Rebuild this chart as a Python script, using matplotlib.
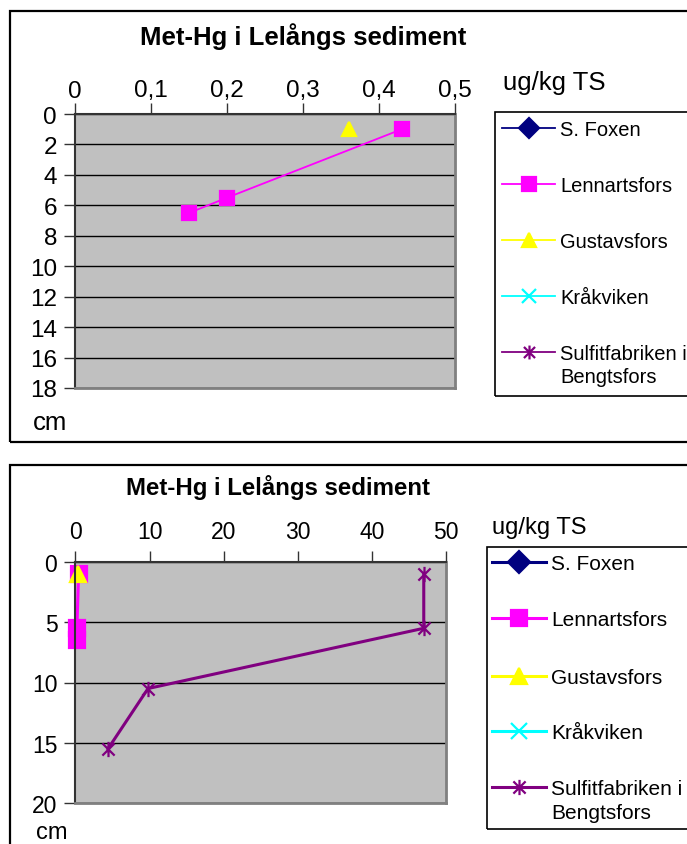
import matplotlib
matplotlib.use("Agg")
import matplotlib.pyplot as plt
from matplotlib.lines import Line2D
from matplotlib.patches import Rectangle
from matplotlib.path import Path

plt.rcParams['font.family'] = ['Liberation Sans', 'DejaVu Sans']

# depth profiles, methyl mercury in ug/kg TS
series_names = ["S. Foxen", "Lennartsfors", "Gustavsfors", "Kråkviken",
                "Sulfitfabriken i\nBengtsfors"]
foxen_depth, foxen_val = [], []
lennart_depth = [1, 5.5, 6.5]
lennart_val = [0.43, 0.2, 0.15]
gustav_depth = [1]
gustav_val = [0.36]
krak_depth, krak_val = [], []
sulfit_depth = [1, 5.5, 10.5, 15.5]
sulfit_val = [47, 47, 9.8, 4.4]

top_xticks = [0, 0.1, 0.2, 0.3, 0.4, 0.5]
top_xlabels = ["0", "0,1", "0,2", "0,3", "0,4", "0,5"]
top_yticks = list(range(0, 19, 2))
bot_xticks = [0, 10, 20, 30, 40, 50]
bot_yticks = [0, 5, 10, 15, 20]

W, H = 687, 845
fig = plt.figure(figsize=(W / 100, H / 100), dpi=100)


def fx(x):
    return x / W


def fy(y):
    return 1 - y / H


# excel style asterisk marker
asterisk = Path([(0, -1), (0, 1), (-0.8, -0.8), (0.8, 0.8), (-0.8, 0.8), (0.8, -0.8)],
                [Path.MOVETO, Path.LINETO] * 3)

styles = [
    dict(color="#000080", marker="D", mfc="#000080", mec="#000080"),
    dict(color="#FF00FF", marker="s", mfc="#FF00FF", mec="#FF00FF"),
    dict(color="#FFFF00", marker="^", mfc="#FFFF00", mec="#FFFF00"),
    dict(color="#00FFFF", marker="x", mfc="none", mec="#00FFFF"),
    dict(color="#800080", marker=asterisk, mfc="none", mec="#800080"),
]
data = [(foxen_val, foxen_depth), (lennart_val, lennart_depth),
        (gustav_val, gustav_depth), (krak_val, krak_depth),
        (sulfit_val, sulfit_depth)]


def chart(frame_top, frame_bot, box, title, title_xy, title_fs,
          xticks, xlabels, yticks, tick_fs, xpad, unit_xy, cm_xy, unit_fs,
          leg, leg_fs, lw, ms, clip):
    fig.add_artist(Rectangle((fx(10), fy(frame_bot)), 1, (frame_bot - frame_top) / H,
                             transform=fig.transFigure, fill=False,
                             ec="black", lw=1.6))
    x0, y0, x1, y1 = box
    ax = fig.add_axes([fx(x0), fy(y1), (x1 - x0) / W, (y1 - y0) / H])
    ax.set_facecolor("#C0C0C0")
    for (v, d), st in zip(data, styles):
        ax.plot(v, d, lw=lw, ms=ms, mew=1.6, clip_on=clip, **st)
    ax.set_xlim(xticks[0], xticks[-1])
    ax.set_ylim(yticks[-1], yticks[0])
    ax.xaxis.tick_top()
    ax.set_xticks(xticks)
    ax.set_xticklabels(xlabels)
    ax.set_yticks(yticks)
    ax.tick_params(axis="x", length=8, width=1, color="#333333", pad=xpad, labelsize=tick_fs)
    ax.tick_params(axis="y", length=8, width=1, color="#333333", pad=5, labelsize=tick_fs)
    ax.grid(axis="y", color="black", lw=1)
    ax.set_axisbelow(True)
    for s in ["right", "bottom"]:
        ax.spines[s].set_color("#808080")
        ax.spines[s].set_linewidth(2)
    for s in ["top", "left"]:
        ax.spines[s].set_color("#333333")
        ax.spines[s].set_linewidth(1.5)

    fig.text(fx(title_xy[0]), fy(title_xy[1]), title, fontsize=title_fs,
             fontweight="bold", ha="center", va="center")
    fig.text(fx(unit_xy[0]), fy(unit_xy[1]), "ug/kg TS", fontsize=unit_fs,
             ha="left", va="center")
    fig.text(fx(cm_xy[0]), fy(cm_xy[1]), "cm", fontsize=unit_fs,
             ha="left", va="center")

    # legend box with line and marker samples
    lx0, ltop, lbot, line_a, line_b, text_x, rows = leg
    fig.add_artist(Rectangle((fx(lx0), fy(lbot)), 1, (lbot - ltop) / H,
                             transform=fig.transFigure, fill=False,
                             ec="black", lw=1.2))
    cap = leg_fs * 100 / 72 * 0.716
    for name, st, ry in zip(series_names, styles, rows):
        fig.add_artist(Line2D([fx(line_a), fx(line_b)], [fy(ry), fy(ry)],
                              transform=fig.transFigure, color=st["color"], lw=lw))
        fig.add_artist(Line2D([fx((line_a + line_b) / 2)], [fy(ry)],
                              transform=fig.transFigure, ls="none",
                              marker=st["marker"], mfc=st["mfc"], mec=st["mec"],
                              ms=ms, mew=1.6))
        lines = name.split("\n")
        for i, part in enumerate(lines):
            fig.text(fx(text_x), fy(ry + cap / 2 + i * leg_fs * 100 / 72 * 1.15), part,
                     fontsize=leg_fs, ha="left", va="baseline")
    return ax


chart(12, 443, (75, 115, 455, 389), "Met-Hg i Lelångs sediment", (303, 37), 18.5,
      top_xticks, top_xlabels, top_yticks, 17.5, 1, (503, 83), (33, 423), 18.5,
      (495, 113, 397, 502, 555, 560, [129, 185, 241, 297, 353]), 14.5, 1.3, 10, True)

chart(466, 900, (75.4, 563, 446, 804), "Met-Hg i Lelångs sediment", (278, 488), 17.3,
      bot_xticks, [str(t) for t in bot_xticks], bot_yticks, 16.5, 6, (492, 528), (36, 833), 17,
      (486.5, 548, 830, 492, 546, 551, [563, 619, 677, 732, 788]), 15, 2.2, 11, False)

fig.savefig("out.png", dpi=100)
